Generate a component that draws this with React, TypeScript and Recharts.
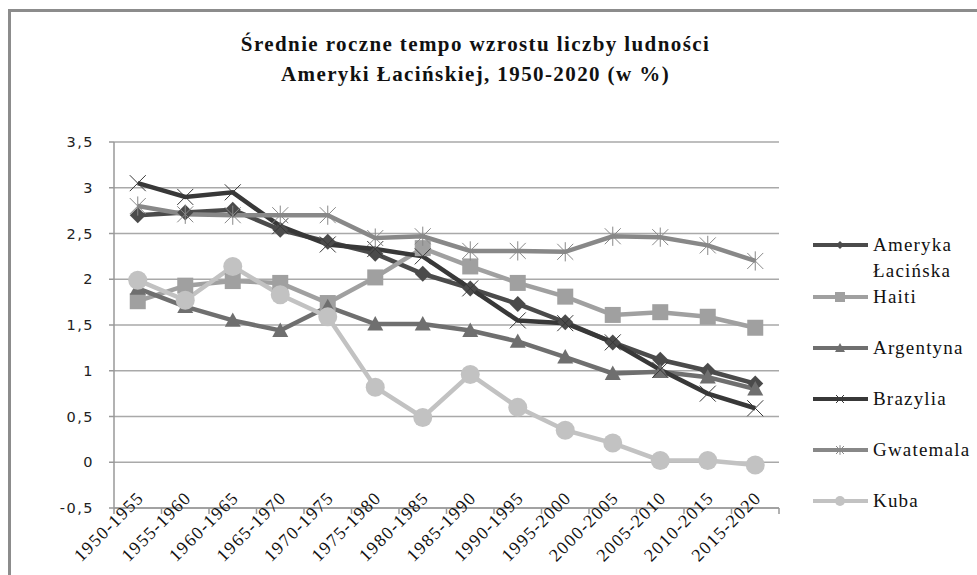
import React from 'react'
import { LineChart, Line, XAxis, YAxis, CartesianGrid } from 'recharts'

// Średnie roczne tempo wzrostu liczby ludności (w %), okresy pięcioletnie
const categories = [
  '1950-1955', '1955-1960', '1960-1965', '1965-1970', '1970-1975', '1975-1980', '1980-1985',
  '1985-1990', '1990-1995', '1995-2000', '2000-2005', '2005-2010', '2010-2015', '2015-2020',
]
const amerykaLacinska = [2.7, 2.73, 2.76, 2.54, 2.41, 2.28, 2.06, 1.9, 1.73, 1.53, 1.31, 1.12, 1.0, 0.86]
const haiti = [1.76, 1.93, 1.98, 1.96, 1.74, 2.02, 2.34, 2.14, 1.96, 1.81, 1.61, 1.64, 1.59, 1.47]
const argentyna = [1.9, 1.7, 1.55, 1.44, 1.7, 1.51, 1.51, 1.44, 1.32, 1.15, 0.97, 0.99, 0.93, 0.8]
const brazylia = [3.05, 2.9, 2.95, 2.58, 2.38, 2.33, 2.25, 1.9, 1.55, 1.52, 1.31, 1.01, 0.75, 0.59]
const gwatemala = [2.8, 2.71, 2.7, 2.7, 2.7, 2.45, 2.47, 2.31, 2.31, 2.3, 2.47, 2.46, 2.37, 2.2]
const kuba = [1.99, 1.77, 2.14, 1.83, 1.59, 0.82, 0.49, 0.96, 0.6, 0.35, 0.21, 0.02, 0.02, -0.03]
const yTicks = [-0.5, 0, 0.5, 1, 1.5, 2, 2.5, 3, 3.5]

const title1 = 'Średnie roczne tempo wzrostu liczby ludności'
const title2 = 'Ameryki Łacińskiej, 1950-2020 (w %)'

const SERIF = "'Liberation Serif', 'Times New Roman', 'DejaVu Serif', serif"

const data = categories.map((c, i) => ({
  okres: c,
  ameryka: amerykaLacinska[i],
  haiti: haiti[i],
  argentyna: argentyna[i],
  brazylia: brazylia[i],
  gwatemala: gwatemala[i],
  kuba: kuba[i],
}))

type Kind = 'diamond' | 'square' | 'triangle' | 'x' | 'star' | 'circle'

const series: { key: string; name: string; color: string; kind: Kind }[] = [
  { key: 'ameryka', name: 'Ameryka Łacińska', color: '#4b4b4b', kind: 'diamond' },
  { key: 'haiti', name: 'Haiti', color: '#a0a0a0', kind: 'square' },
  { key: 'argentyna', name: 'Argentyna', color: '#6f6f6f', kind: 'triangle' },
  { key: 'brazylia', name: 'Brazylia', color: '#383838', kind: 'x' },
  { key: 'gwatemala', name: 'Gwatemala', color: '#888888', kind: 'star' },
  { key: 'kuba', name: 'Kuba', color: '#c2c2c2', kind: 'circle' },
]

function Marker({ kind, cx, cy, color, s }: { kind: Kind; cx: number; cy: number; color: string; s: number }) {
  if (cx == null || cy == null) return null
  switch (kind) {
    case 'diamond':
      return <polygon points={`${cx},${cy - s} ${cx + s},${cy} ${cx},${cy + s} ${cx - s},${cy}`} fill={color} />
    case 'square':
      return <rect x={cx - s} y={cy - s} width={2 * s} height={2 * s} fill={color} />
    case 'triangle':
      return <polygon points={`${cx},${cy - s} ${cx + s},${cy + s * 0.8} ${cx - s},${cy + s * 0.8}`} fill={color} />
    case 'x':
      return (
        <g stroke={color} strokeWidth={1}>
          <line x1={cx - s} y1={cy - s} x2={cx + s} y2={cy + s} />
          <line x1={cx - s} y1={cy + s} x2={cx + s} y2={cy - s} />
        </g>
      )
    case 'star':
      return (
        <g stroke={color} strokeWidth={1}>
          <line x1={cx - s} y1={cy - s} x2={cx + s} y2={cy + s} />
          <line x1={cx - s} y1={cy + s} x2={cx + s} y2={cy - s} />
          <line x1={cx} y1={cy - s * 1.2} x2={cx} y2={cy + s * 1.2} />
        </g>
      )
    default:
      return <circle cx={cx} cy={cy} r={s} fill={color} />
  }
}

const markerSize: Record<Kind, number> = { diamond: 8, square: 8, triangle: 8, x: 8, star: 8, circle: 9.5 }
const legendSize: Record<Kind, number> = { diamond: 4, square: 5, triangle: 5, x: 4, star: 4, circle: 5 }

const BAND = 665 / 14
const AXIS_Y = 500

function XTick(props: any) {
  const { x, payload, index } = props
  const bx = x - BAND / 2
  const tx = x + 7
  const ty = AXIS_Y - 9
  return (
    <g>
      <line x1={bx} y1={AXIS_Y} x2={bx} y2={AXIS_Y + 6} stroke="#999" strokeWidth={1.5} />
      {index === categories.length - 1 && (
        <line x1={x + BAND / 2} y1={AXIS_Y} x2={x + BAND / 2} y2={AXIS_Y + 6} stroke="#999" strokeWidth={1.5} />
      )}
      <text
        x={tx}
        y={ty}
        textAnchor="end"
        transform={`rotate(-45, ${tx}, ${ty})`}
        fontFamily={SERIF}
        fontSize={18}
        letterSpacing={1.3}
        fill="#111"
      >
        {payload.value}
      </text>
    </g>
  )
}

function YTick(props: any) {
  const { y, payload } = props
  return (
    <text
      x={86}
      y={y + 5}
      textAnchor="end"
      fontFamily="'DejaVu Sans', sans-serif"
      fontSize={14.5}
      letterSpacing={1.5}
      fill="#222"
    >
      {String(payload.value).replace('.', ',')}
    </text>
  )
}

function ChartLegend() {
  return (
    <div
      style={{
        position: 'absolute', left: 813, top: 232,
        fontFamily: SERIF, fontSize: 19, letterSpacing: 1.2, color: '#111',
      }}
    >
      {series.map((s, i) => (
        <div key={s.key} style={{ display: 'flex', alignItems: 'flex-start', marginBottom: i === 0 ? 0 : 25 }}>
          <svg width={55} height={26} style={{ flex: 'none' }}>
            <line x1={0} y1={13} x2={55} y2={13} stroke={s.color} strokeWidth={4} />
            <Marker kind={s.kind} cx={27} cy={13} color={s.color} s={legendSize[s.kind]} />
          </svg>
          <div style={{ marginLeft: 5, width: 100, lineHeight: '26px' }}>{s.name}</div>
        </div>
      ))}
    </div>
  )
}

export default function App() {
  return (
    <div style={{ position: 'absolute', left: 0, top: 0, width: 977, height: 575, overflow: 'hidden', background: '#fff' }}>
      <div
        style={{
          position: 'absolute', left: 8, top: 9, width: 1000, height: 700,
          borderLeft: '3px solid #8c8c8c', borderTop: '3px solid #8c8c8c',
        }}
      />
      <div
        style={{
          position: 'absolute', left: 8, top: 29, width: 935, textAlign: 'center',
          fontFamily: SERIF, fontWeight: 'bold', fontSize: 21, lineHeight: '30px',
          letterSpacing: 1.4, color: '#111',
        }}
      >
        <div>{title1}</div>
        <div>{title2}</div>
      </div>
      <div style={{ position: 'absolute', left: 8, top: 8 }}>
        <LineChart width={969} height={567} data={data} margin={{ top: 134, right: 198, bottom: 0, left: 0 }}>
          <CartesianGrid vertical={false} stroke="#a9a9a9" strokeWidth={1.5} />
          <XAxis
            dataKey="okres"
            height={67}
            interval={0}
            padding={{ left: BAND / 2, right: BAND / 2 }}
            tickLine={false}
            tick={<XTick />}
            axisLine={{ stroke: '#999', strokeWidth: 1.5 }}
          />
          <YAxis
            width={106}
            domain={[-0.5, 3.5]}
            ticks={yTicks}
            interval={0}
            tickSize={5}
            tickLine={{ stroke: '#999', strokeWidth: 1.5 }}
            axisLine={{ stroke: '#999', strokeWidth: 1.5 }}
            tick={<YTick />}
          />
          {series.map((s) => (
            <Line
              key={s.key}
              dataKey={s.key}
              name={s.name}
              stroke={s.color}
              strokeWidth={4.5}
              isAnimationActive={false}
              dot={(p: any) => <Marker key={s.key + p.index} kind={s.kind} cx={p.cx} cy={p.cy} color={s.color} s={markerSize[s.kind]} />}
              activeDot={false}
            />
          ))}
        </LineChart>
      </div>
      <ChartLegend />
    </div>
  )
}
